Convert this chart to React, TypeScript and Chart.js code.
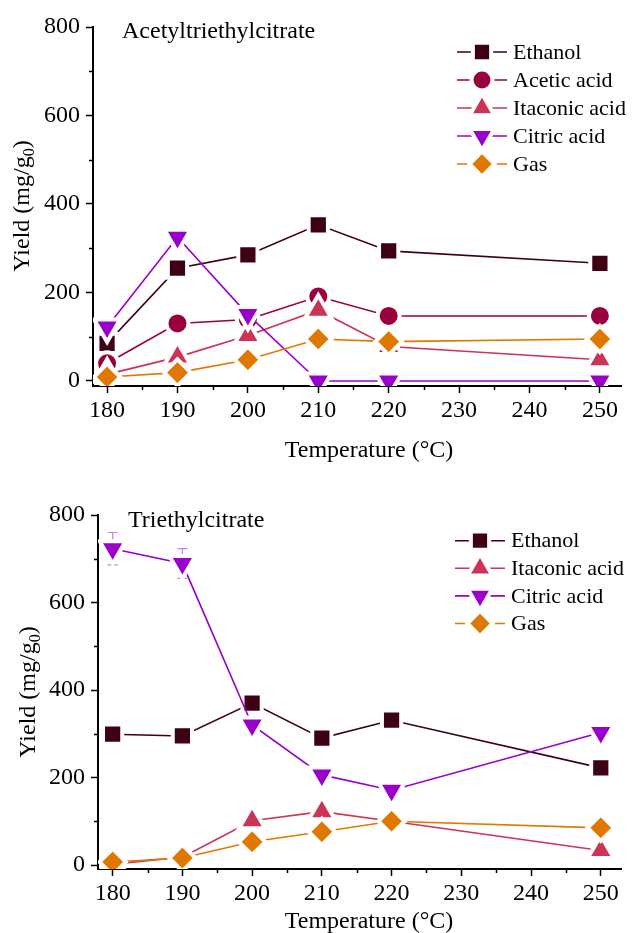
import React, { useEffect, useRef } from 'react';
import { Chart, registerables } from 'chart.js';

Chart.register(...registerables);

const FONT = '"Liberation Serif", "Times New Roman", serif';

// ---------- data ----------
const temps = [180, 190, 200, 210, 220, 250];
const xTickValues = [180, 190, 200, 210, 220, 230, 240, 250];
const xMinorTicks = [185, 195, 205, 215, 225, 235, 245];
const yTickValues = [0, 200, 400, 600, 800];
const yMinorTicks = [100, 300, 500, 700];

// Acetyltriethylcitrate panel
const topTitle = 'Acetyltriethylcitrate';
const topNames = ['Ethanol', 'Acetic acid', 'Itaconic acid', 'Citric acid', 'Gas'];
const aEthanol = [85, 255, 285, 353, 294, 266];
const aAcetic = [40, 130, 139, 191, 147, 147];
const aItaconic = [15, 54, 103, 160, 78, 48];
const aCitric = [122, 325, 150, 0, 0, 0];
const aGas = [9, 19, 48, 95, 89, 95];
const aEthanolErr = [0, 0, 0, 6, 0, 0];
const aAceticErr = [0, 0, 0, 0, 0, 0];
const aItaconicErr = [0, 0, 0, 0, 8, 0];
const aCitricErr = [0, 18, 8, 0, 0, 0];
const aGasErr = [0, 0, 0, 0, 10, 0];

// Triethylcitrate panel
const bottomTitle = 'Triethylcitrate';
const bottomNames = ['Ethanol', 'Itaconic acid', 'Citric acid', 'Gas'];
const tEthanol = [299, 295, 370, 290, 331, 222];
const tItaconic = [2, 18, 101, 122, 100, 33];
const tCitric = [723, 689, 320, 206, 171, 303];
const tGas = [7, 16, 53, 76, 100, 85];
const tEthanolErr = [0, 0, 19, 0, 8, 0];
const tItaconicErr = [0, 0, 0, 0, 0, 0];
const tCitricErr = [37, 34, 16, 0, 0, 10];
const tGasErr = [0, 0, 0, 0, 0, 0];

// ---------- styles ----------
type Sty = { color: string; err: string; style: string; radius: number; rotation: number };
const STYLE: Record<string, Sty> = {
  'Ethanol': { color: '#3d0016', err: '#8a6a76', style: 'rect', radius: 13.6, rotation: 0 },
  'Acetic acid': { color: '#99003d', err: '#c86a8a', style: 'circle', radius: 11, rotation: 0 },
  'Itaconic acid': { color: '#cc3355', err: '#e590a0', style: 'triangle', radius: 15, rotation: 0 },
  'Citric acid': { color: '#9900cc', err: '#cc80e0', style: 'triangle', radius: 15, rotation: 180 },
  'Gas': { color: '#e07800', err: '#f0b060', style: 'rectRot', radius: 13.2, rotation: 0 },
};

function drawMarker(ctx: CanvasRenderingContext2D, s: Sty, x: number, y: number, scale: number) {
  const r = s.radius * scale;
  ctx.save();
  ctx.fillStyle = s.color;
  ctx.strokeStyle = '#ffffff';
  ctx.lineWidth = 4;
  ctx.beginPath();
  if (s.style === 'circle') {
    ctx.arc(x, y, r, 0, Math.PI * 2);
  } else if (s.style === 'rect') {
    const h = r * Math.SQRT1_2;
    ctx.rect(x - h, y - h, 2 * h, 2 * h);
  } else if (s.style === 'rectRot') {
    ctx.moveTo(x, y - r);
    ctx.lineTo(x + r, y);
    ctx.lineTo(x, y + r);
    ctx.lineTo(x - r, y);
    ctx.closePath();
  } else {
    let a = (s.rotation * Math.PI) / 180;
    ctx.moveTo(x + Math.sin(a) * r, y - Math.cos(a) * r);
    a += (2 * Math.PI) / 3;
    ctx.lineTo(x + Math.sin(a) * r, y - Math.cos(a) * r);
    a += (2 * Math.PI) / 3;
    ctx.lineTo(x + Math.sin(a) * r, y - Math.cos(a) * r);
    ctx.closePath();
  }
  ctx.fill();
  ctx.stroke();
  ctx.restore();
}

type Spec = {
  title: string;
  names: string[];
  values: number[][];
  errs: number[][];
  width: number;
  height: number;
  padTop: number;
  padRight: number;
  yWidth: number;
  xHeight: number;
  xMin: number;
  xMax: number;
  yMin: number;
  yMax: number;
  titleX: number;
  titleY: number;
  legendY0: number;
  legendDy: number;
  legendX0: number;
  xTitleX: number;
  xTitleY: number;
  yTitleX: number;
  yTitleY: number;
};

function makePlugin(spec: Spec) {
  return {
    id: 'decor',
    beforeDatasetsDraw(chart: any) {
      const ctx: CanvasRenderingContext2D = chart.ctx;
      const xs = chart.scales.x;
      const ys = chart.scales.y;
      const ca = chart.chartArea;
      ctx.save();
      ctx.beginPath();
      ctx.rect(ca.left, ca.top - 20, ca.right - ca.left, ca.bottom - ca.top + 20);
      ctx.clip();
      spec.names.forEach((name, i) => {
        const st = STYLE[name];
        ctx.strokeStyle = st.err;
        ctx.lineWidth = 1.2;
        spec.values[i].forEach((v, j) => {
          const e = spec.errs[i][j];
          if (!e) return;
          const px = xs.getPixelForValue(temps[j]);
          const y1 = ys.getPixelForValue(v + e);
          const y2 = ys.getPixelForValue(v - e);
          ctx.beginPath();
          ctx.moveTo(px, y1);
          ctx.lineTo(px, y2);
          ctx.moveTo(px - 5, y1);
          ctx.lineTo(px + 5, y1);
          ctx.moveTo(px - 5, y2);
          ctx.lineTo(px + 5, y2);
          ctx.stroke();
        });
      });
      ctx.restore();
    },
    afterDraw(chart: any) {
      const ctx: CanvasRenderingContext2D = chart.ctx;
      const xs = chart.scales.x;
      const ys = chart.scales.y;
      const ca = chart.chartArea;
      ctx.save();
      // minor ticks
      ctx.strokeStyle = '#000';
      ctx.lineWidth = 1.5;
      ctx.beginPath();
      yMinorTicks.forEach((v) => {
        const py = Math.round(ys.getPixelForValue(v)) + 0.5;
        ctx.moveTo(ca.left - 4, py);
        ctx.lineTo(ca.left, py);
      });
      xMinorTicks.forEach((v) => {
        const px = Math.round(xs.getPixelForValue(v)) + 0.5;
        ctx.moveTo(px, ca.bottom);
        ctx.lineTo(px, ca.bottom + 4);
      });
      ctx.stroke();

      // panel title
      ctx.fillStyle = '#000';
      ctx.font = `24px ${FONT}`;
      ctx.textAlign = 'left';
      ctx.textBaseline = 'alphabetic';
      ctx.fillText(spec.title, spec.titleX, spec.titleY);

      // legend
      spec.names.forEach((name, i) => {
        const st = STYLE[name];
        const y = spec.legendY0 + i * spec.legendDy;
        const x0 = spec.legendX0;
        ctx.strokeStyle = st.color;
        ctx.lineWidth = 1.6;
        ctx.beginPath();
        ctx.moveTo(x0, y);
        ctx.lineTo(x0 + 50, y);
        ctx.stroke();
        drawMarker(ctx, st, x0 + 25, y, 0.95);
        ctx.fillStyle = '#000';
        ctx.font = `22px ${FONT}`;
        ctx.textAlign = 'left';
        ctx.textBaseline = 'middle';
        ctx.fillText(name, x0 + 56, y + 1);
      });

      // x title
      ctx.fillStyle = '#000';
      ctx.font = `24px ${FONT}`;
      ctx.textAlign = 'center';
      ctx.textBaseline = 'alphabetic';
      ctx.fillText('Temperature (\u00B0C)', spec.xTitleX, spec.xTitleY);

      // y title with subscript
      ctx.translate(spec.yTitleX, spec.yTitleY);
      ctx.rotate(-Math.PI / 2);
      ctx.textAlign = 'left';
      const main = 'Yield (mg/g';
      const sub = '0';
      const close = ')';
      ctx.font = `24px ${FONT}`;
      const w1 = ctx.measureText(main).width;
      const w3 = ctx.measureText(close).width;
      ctx.font = `16px ${FONT}`;
      const w2 = ctx.measureText(sub).width;
      let sx = -(w1 + w2 + w3) / 2;
      ctx.font = `24px ${FONT}`;
      ctx.fillText(main, sx, 0);
      sx += w1;
      ctx.font = `16px ${FONT}`;
      ctx.fillText(sub, sx, 5);
      sx += w2;
      ctx.font = `24px ${FONT}`;
      ctx.fillText(close, sx, 0);
      ctx.restore();
    },
  };
}

function makeConfig(spec: Spec): any {
  const n = spec.names.length;
  return {
    type: 'line',
    data: {
      datasets: spec.names.map((name, i) => {
        const st = STYLE[name];
        return {
          label: name,
          data: temps.map((t, j) => ({ x: t, y: spec.values[i][j] })),
          borderColor: st.color,
          backgroundColor: st.color,
          borderWidth: 1.6,
          tension: 0,
          fill: false,
          pointStyle: st.style,
          pointRadius: st.radius,
          pointRotation: st.rotation,
          pointBackgroundColor: st.color,
          pointBorderColor: '#ffffff',
          pointBorderWidth: 4,
          order: n - i,
        };
      }),
    },
    options: {
      responsive: false,
      animation: false,
      devicePixelRatio: 1,
      events: [],
      layout: { padding: { left: 0, right: spec.padRight, top: spec.padTop, bottom: 0 } },
      plugins: {
        legend: { display: false },
        tooltip: { enabled: false },
        title: { display: false },
      },
      scales: {
        x: {
          type: 'linear',
          min: spec.xMin,
          max: spec.xMax,
          afterFit: (s: any) => {
            s.height = spec.xHeight;
          },
          afterBuildTicks: (s: any) => {
            s.ticks = xTickValues.map((v) => ({ value: v }));
          },
          grid: { drawOnChartArea: false, drawTicks: true, tickLength: 7, tickColor: '#000', tickWidth: 1.5 },
          border: { display: true, color: '#000', width: 2 },
          ticks: {
            color: '#000',
            font: { family: FONT, size: 24 },
            padding: 3,
            maxRotation: 0,
            autoSkip: false,
            callback: (v: any) => String(v),
          },
        },
        y: {
          type: 'linear',
          min: spec.yMin,
          max: spec.yMax,
          afterFit: (s: any) => {
            s.width = spec.yWidth;
          },
          afterBuildTicks: (s: any) => {
            s.ticks = yTickValues.map((v) => ({ value: v }));
          },
          grid: { drawOnChartArea: false, drawTicks: true, tickLength: 7, tickColor: '#000', tickWidth: 1.5 },
          border: { display: true, color: '#000', width: 2 },
          ticks: {
            color: '#000',
            font: { family: FONT, size: 24 },
            padding: 6,
            autoSkip: false,
            callback: (v: any) => String(v),
          },
        },
      },
    },
    plugins: [makePlugin(spec)],
  };
}

const topSpec: Spec = {
  title: topTitle,
  names: topNames,
  values: [aEthanol, aAcetic, aItaconic, aCitric, aGas],
  errs: [aEthanolErr, aAceticErr, aItaconicErr, aCitricErr, aGasErr],
  width: 640,
  height: 466,
  padTop: 27,
  padRight: 0,
  yWidth: 93,
  xHeight: 80,
  xMin: 178,
  xMax: 253,
  yMin: -11.3,
  yMax: 800,
  titleX: 122,
  titleY: 38,
  legendY0: 52,
  legendDy: 28,
  legendX0: 457,
  xTitleX: 369,
  xTitleY: 457,
  yTitleX: 29,
  yTitleY: 206,
};

const bottomSpec: Spec = {
  title: bottomTitle,
  names: bottomNames,
  values: [tEthanol, tItaconic, tCitric, tGas],
  errs: [tEthanolErr, tItaconicErr, tCitricErr, tGasErr],
  width: 640,
  height: 467,
  padTop: 49,
  padRight: 2,
  yWidth: 98,
  xHeight: 64,
  xMin: 177.9,
  xMax: 252.9,
  yMin: -9.1,
  yMax: 800,
  titleX: 128,
  titleY: 61,
  legendY0: 74.7,
  legendDy: 27.6,
  legendX0: 455,
  xTitleX: 369,
  xTitleY: 462,
  yTitleX: 35,
  yTitleY: 226,
};

function Panel({ spec, top }: { spec: Spec; top: number }) {
  const ref = useRef<HTMLCanvasElement | null>(null);
  useEffect(() => {
    if (!ref.current) return;
    const chart = new Chart(ref.current, makeConfig(spec));
    return () => chart.destroy();
  }, [spec]);
  return (
    <canvas
      ref={ref}
      width={spec.width}
      height={spec.height}
      style={{ position: 'absolute', left: 0, top, width: spec.width, height: spec.height }}
    />
  );
}

export default function App() {
  return (
    <div style={{ position: 'absolute', left: 0, top: 0, width: 640, height: 933, background: '#ffffff', overflow: 'hidden' }}>
      <Panel spec={topSpec} top={0} />
      <Panel spec={bottomSpec} top={466} />
    </div>
  );
}
